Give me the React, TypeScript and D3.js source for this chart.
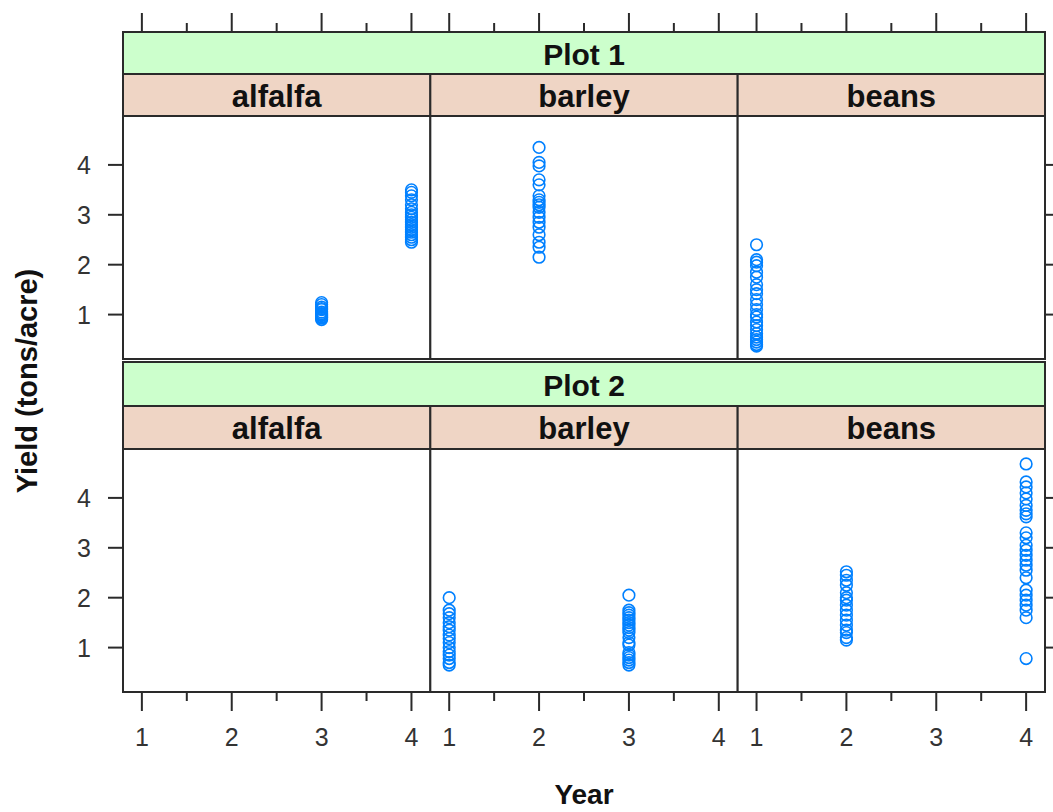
import React from "react";
import * as d3 from "d3";

const crops = ["alfalfa", "barley", "beans"];
const plots = ["Plot 1", "Plot 2"];
const xTicks = [1, 2, 3, 4];
const xMinorTicks = [1.5, 2.5, 3.5];
const yTicks = [1, 2, 3, 4];

// Yield values, grouped by plot / crop / year
const p1Alfalfa3 = [1.24, 1.2, 1.15, 1.12, 1.1, 1.05, 1.02, 1.0, 0.98, 0.95, 0.93, 0.9];
const p1Alfalfa4 = [3.5, 3.45, 3.38, 3.3, 3.2, 3.12, 3.05, 3.0, 2.95, 2.9, 2.85, 2.8, 2.75, 2.7, 2.65, 2.6, 2.55, 2.5, 2.45];
const p1Barley2 = [4.35, 4.05, 3.98, 3.7, 3.6, 3.38, 3.3, 3.25, 3.2, 3.15, 3.05, 2.95, 2.85, 2.75, 2.6, 2.45, 2.35, 2.15];
const p1Beans1 = [2.4, 2.1, 2.05, 1.98, 1.85, 1.75, 1.6, 1.5, 1.42, 1.3, 1.2, 1.1, 1.0, 0.95, 0.85, 0.78, 0.7, 0.62, 0.55, 0.5, 0.45, 0.4, 0.37];
const p2Barley1 = [2.0, 1.75, 1.68, 1.6, 1.5, 1.42, 1.35, 1.25, 1.18, 1.1, 1.0, 0.92, 0.85, 0.78, 0.7, 0.65];
const p2Barley3 = [2.05, 1.75, 1.7, 1.65, 1.6, 1.55, 1.5, 1.45, 1.4, 1.35, 1.3, 1.2, 1.1, 1.05, 0.9, 0.85, 0.8, 0.75, 0.7, 0.65];
const p2Beans2 = [2.52, 2.45, 2.35, 2.25, 2.1, 2.0, 1.95, 1.85, 1.75, 1.65, 1.55, 1.45, 1.35, 1.3, 1.2, 1.15];
const p2Beans4 = [4.68, 4.32, 4.22, 4.1, 3.98, 3.85, 3.75, 3.68, 3.62, 3.3, 3.2, 3.05, 2.95, 2.85, 2.75, 2.65, 2.55, 2.4, 2.15, 2.05, 1.95, 1.85, 1.75, 1.6, 0.78];

const groups = [
  { plot: 0, crop: 0, year: 3, values: p1Alfalfa3 },
  { plot: 0, crop: 0, year: 4, values: p1Alfalfa4 },
  { plot: 0, crop: 1, year: 2, values: p1Barley2 },
  { plot: 0, crop: 2, year: 1, values: p1Beans1 },
  { plot: 1, crop: 1, year: 1, values: p2Barley1 },
  { plot: 1, crop: 1, year: 3, values: p2Barley3 },
  { plot: 1, crop: 2, year: 2, values: p2Beans2 },
  { plot: 1, crop: 2, year: 4, values: p2Beans4 },
];

const W = 1053;
const H = 812;
const left = 123;
const right = 1045;
const colW = (right - left) / crops.length;
const rows = [
  { stripTop: 32, subTop: 74, panelTop: 116, panelBottom: 359 },
  { stripTop: 362, subTop: 406, panelTop: 449, panelBottom: 692 },
];
const stroke = "#2a2a2a";
const pointCol = "#0080ff";
const font = "Liberation Sans, Arial, sans-serif";

export default function App() {
  const xScales = crops.map((_, i) =>
    d3.scaleLinear().domain([0.79, 4.21]).range([left + i * colW, left + (i + 1) * colW])
  );
  const yScales = rows.map((r) =>
    d3.scaleLinear().domain([0.11, 4.98]).range([r.panelBottom, r.panelTop])
  );

  return (
    <svg
      width={W}
      height={H}
      style={{ position: "fixed", left: 0, top: 0, background: "#fff" }}
      fontFamily={font}
    >
      <rect x={0} y={0} width={W} height={H} fill="#fff" />
      {rows.map((r, ri) => (
        <g key={ri}>
          <rect x={left} y={r.stripTop} width={right - left} height={r.subTop - r.stripTop} fill="#ccffcc" stroke={stroke} strokeWidth={2} />
          <text x={(left + right) / 2} y={(r.stripTop + r.subTop) / 2 + 1} textAnchor="middle" dominantBaseline="central" fontSize={30} fontWeight="bold" fill="#111">
            {plots[ri]}
          </text>
          {crops.map((c, ci) => (
            <g key={c}>
              <rect x={left + ci * colW} y={r.subTop} width={colW} height={r.panelTop - r.subTop} fill="#efd5c5" stroke={stroke} strokeWidth={2} />
              <text x={left + ci * colW + colW / 2} y={(r.subTop + r.panelTop) / 2 + 1} textAnchor="middle" dominantBaseline="central" fontSize={31} fontWeight="bold" fill="#111">
                {c}
              </text>
              <rect x={left + ci * colW} y={r.panelTop} width={colW} height={r.panelBottom - r.panelTop} fill="#fff" stroke={stroke} strokeWidth={2} />
            </g>
          ))}
          {yTicks.map((t) => (
            <g key={"l" + t}>
              <line x1={left - 15} x2={left} y1={yScales[ri](t)} y2={yScales[ri](t)} stroke={stroke} strokeWidth={2} />
              <text x={91} y={yScales[ri](t)} textAnchor="end" dominantBaseline="central" fontSize={25} fill="#333">
                {t}
              </text>
              <line x1={right} x2={right + 15} y1={yScales[ri](t)} y2={yScales[ri](t)} stroke={stroke} strokeWidth={2} />
            </g>
          ))}
        </g>
      ))}
      {crops.map((c, ci) => (
        <g key={"top" + c}>
          {xTicks.map((t) => (
            <line key={t} x1={xScales[ci](t)} x2={xScales[ci](t)} y1={rows[0].stripTop} y2={rows[0].stripTop - 19} stroke={stroke} strokeWidth={2} />
          ))}
          {xMinorTicks.map((t) => (
            <line key={"m" + t} x1={xScales[ci](t)} x2={xScales[ci](t)} y1={rows[0].stripTop} y2={rows[0].stripTop - 9} stroke={stroke} strokeWidth={2} />
          ))}
        </g>
      ))}
      {crops.map((c, ci) => (
        <g key={"bot" + c}>
          {xTicks.map((t) => (
            <g key={t}>
              <line x1={xScales[ci](t)} x2={xScales[ci](t)} y1={rows[1].panelBottom} y2={rows[1].panelBottom + 19} stroke={stroke} strokeWidth={2} />
              <text x={xScales[ci](t)} y={737} textAnchor="middle" dominantBaseline="central" fontSize={25} fill="#333">
                {t}
              </text>
            </g>
          ))}
          {xMinorTicks.map((t) => (
            <line key={"m" + t} x1={xScales[ci](t)} x2={xScales[ci](t)} y1={rows[1].panelBottom} y2={rows[1].panelBottom + 9} stroke={stroke} strokeWidth={2} />
          ))}
        </g>
      ))}
      {groups.map((g, gi) => (
        <g key={gi}>
          {g.values.map((v, vi) => (
            <circle key={vi} cx={xScales[g.crop](g.year)} cy={yScales[g.plot](v)} r={5.8} fill="none" stroke={pointCol} strokeWidth={1.6} />
          ))}
        </g>
      ))}
      <text x={584} y={794} textAnchor="middle" dominantBaseline="central" fontSize={28} fontWeight="bold" fill="#111">
        Year
      </text>
      <text transform="translate(27,381) rotate(-90)" textAnchor="middle" dominantBaseline="central" fontSize={29} fontWeight="bold" fill="#111">
        Yield (tons/acre)
      </text>
    </svg>
  );
}
